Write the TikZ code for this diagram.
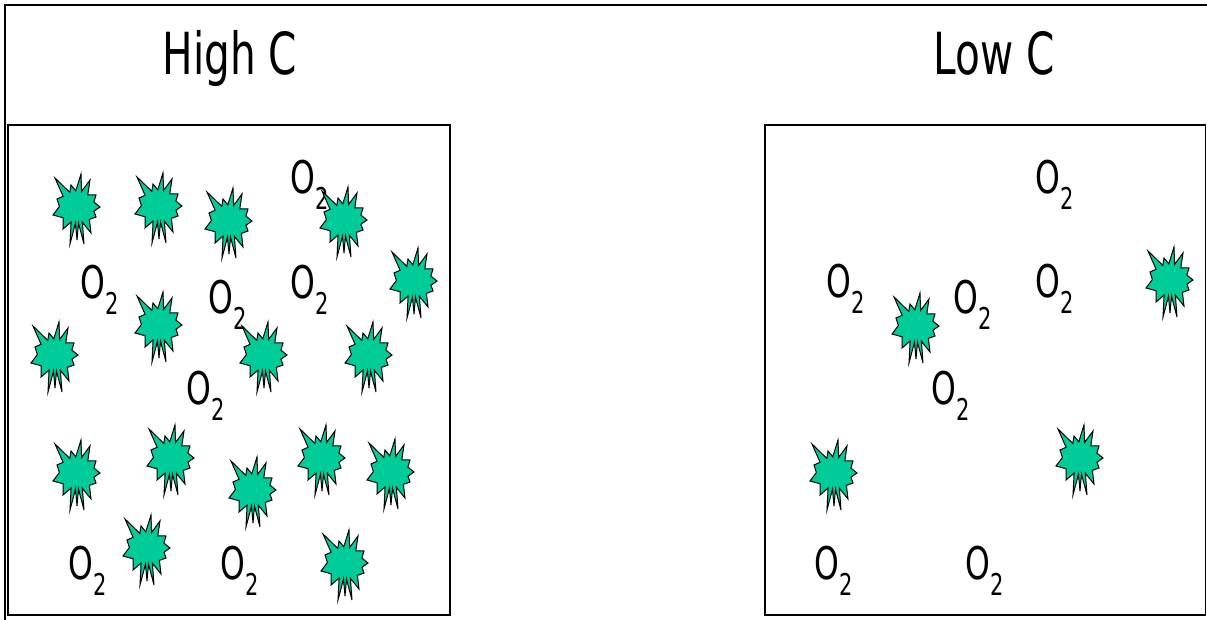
\documentclass[tikz,border=0pt]{standalone}
\usepackage{fontspec}
\setmainfont{DejaVu Sans}[FakeStretch=0.7]
\usepackage{tikz}
\usetikzlibrary{positioning}
\definecolor{burstgreen}{RGB}{0,204,153}

% O_2 with a lowered small 2
\newcommand{\oxy}{O\raisebox{-0.34em}{\fontsize{15}{17}\selectfont 2}}

\begin{document}
\begin{tikzpicture}[x=0.5pt,y=-0.5pt,
  burst/.style={draw=black,line width=0.5pt,fill=burstgreen,line join=miter},
  frame/.style={line width=1pt},
  box/.style={line width=0.75pt},
  gas/.style={font=\fontsize{22.5}{26}\selectfont,inner sep=0pt,anchor=base west},
  title/.style={font=\fontsize{29}{34}\selectfont,inner sep=0pt,anchor=base}]

\useasboundingbox (0,0) rectangle (1207,620);

% ---- star outline (offsets from the centre) ----
\def\burstpath{(-22,-29) -- (-7.2,-14.6) -- (-6,-22) -- (-1.2,-16.2) -- (4,-33)
  -- (4.6,-15.5) -- (13,-27) -- (10.8,-12.2) -- (19,-12) -- (16.9,-4.9) -- (23,0)
  -- (17,4.2) -- (19,10) -- (12.4,12.4) -- (14,26) -- (5.4,15.3) -- (7,37)
  -- (1.5,16.2) -- (0,33) -- (-1.5,16.2) -- (-7,37) -- (-5.9,15.1) -- (-14,22)
  -- (-13.8,10.8) -- (-24,8) -- (-17.6,-0.5) -- (-20,-8) -- (-13.9,-10.7) -- cycle}

% ---- frame ----
\draw[frame] (1207,5) -- (5,5) -- (5,620);
\draw[box] (8,125) rectangle (450,615);
\draw[box] (765,125) rectangle (1205.5,615);

% ---- titles ----
\node[title] (high) at (230,75) {High C};
\node[title] (low) at (994,75) {Low C};

% ---- oxygen ----
\foreach \x/\y [count=\i] in {290/194, 80/299, 208/314, 290/299, 186/405, 68/580, 220/580}
  \node[gas] (oxl\i) at (\x,\y) {\oxy};
\foreach \x/\y [count=\i] in {1035/194, 826/298, 953/314, 1035/298, 931/405, 814/580, 965/580}
  \node[gas] (oxr\i) at (\x,\y) {\oxy};

% ---- high concentration ----
\foreach \x/\y in {77/207, 159/206, 229/221, 344/220, 414/281, 159/325, 55/355,
    264/355, 369/355, 77/473, 171/458, 253/490, 322/458, 391/472, 147/548, 345/563}
  \draw[burst,shift={(\x,\y)}] \burstpath;

% ---- low concentration ----
\foreach \x/\y in {916/326, 1170/280, 834/473, 1080/458}
  \draw[burst,shift={(\x,\y)}] \burstpath;

\end{tikzpicture}
\end{document}
